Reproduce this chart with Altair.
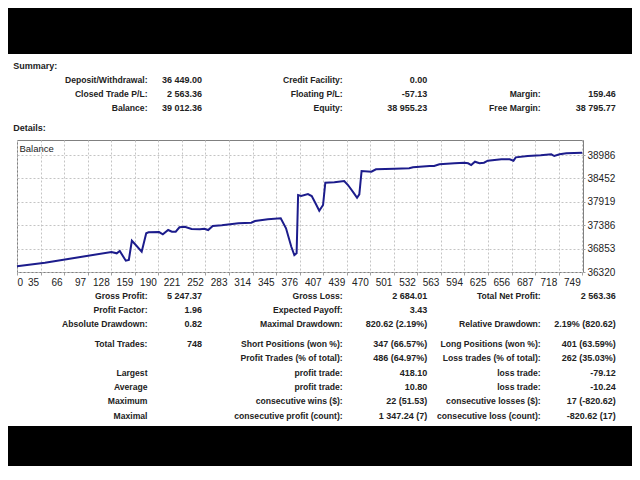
import json
import altair as alt
import pandas as pd

# ---------------- data ----------------
TRADE_IDX = [0, 37, 86, 125, 132, 136, 144, 148, 152, 156, 165, 171, 174, 188, 193, 200, 205, 210, 215, 222,
             231, 242, 248, 253, 259, 271, 293, 310, 315, 332, 349, 356, 363, 367, 370, 372, 376, 385, 390, 395,
             400, 405, 408, 420, 433, 438, 446, 450, 453, 456, 469, 475, 500, 519, 524, 546, 552, 559, 579, 592,
             597, 601, 606, 612, 618, 623, 641, 652, 657, 660, 676, 693, 707, 711, 718, 727, 748]
BALANCE = [36449, 36532, 36669, 36776, 36746, 36798, 36577, 36593, 37033, 36958, 36783, 37202, 37225, 37231, 37179,
           37277, 37238, 37238, 37339, 37352, 37300, 37293, 37307, 37277, 37368, 37384, 37430, 37443, 37482, 37521,
           37544, 37316, 36896, 36707, 36746, 38074, 38052, 38097, 38052, 37885, 37717, 37847, 38355, 38364, 38394,
           38302, 38113, 38013, 38090, 38621, 38605, 38660, 38674, 38683, 38706, 38735, 38735, 38774, 38797, 38810,
           38797, 38758, 38833, 38797, 38810, 38856, 38888, 38888, 38856, 38933, 38963, 38979, 39002, 38963, 39002,
           39025, 39038]

X_LABELS = ["0", "35", "66", "97", "128", "159", "190", "221", "252", "283", "314", "345", "376", "407",
            "439", "470", "501", "532", "563", "594", "625", "656", "687", "718", "749"]
Y_TICKS = [36320, 36853, 37386, 37919, 38452, 38986]
Y_DOMAIN = [36320, 39328]
N_TRADES = 748

SECTION_TITLES = ["Summary:", "Details:"]

HEADER_LABELS = [["Deposit/Withdrawal:", "Credit Facility:", ""],
                 ["Closed Trade P/L:", "Floating P/L:", "Margin:"],
                 ["Balance:", "Equity:", "Free Margin:"]]
HEADER_VALUES = [["36 449.00", "0.00", ""],
                 ["2 563.36", "-57.13", "159.46"],
                 ["39 012.36", "38 955.23", "38 795.77"]]

DETAIL_LABELS = [["Gross Profit:", "Gross Loss:", "Total Net Profit:"],
                 ["Profit Factor:", "Expected Payoff:", ""],
                 ["Absolute Drawdown:", "Maximal Drawdown:", "Relative Drawdown:"],
                 ["Total Trades:", "Short Positions (won %):", "Long Positions (won %):"],
                 ["", "Profit Trades (% of total):", "Loss trades (% of total):"],
                 ["Largest", "profit trade:", "loss trade:"],
                 ["Average", "profit trade:", "loss trade:"],
                 ["Maximum", "consecutive wins ($):", "consecutive losses ($):"],
                 ["Maximal", "consecutive profit (count):", "consecutive loss (count):"]]
DETAIL_VALUES = [["5 247.37", "2 684.01", "2 563.36"],
                 ["1.96", "3.43", ""],
                 ["0.82", "820.62 (2.19%)", "2.19% (820.62)"],
                 ["748", "347 (66.57%)", "401 (63.59%)"],
                 ["", "486 (64.97%)", "262 (35.03%)"],
                 ["", "418.10", "-79.12"],
                 ["", "10.80", "-10.24"],
                 ["", "22 (51.53)", "17 (-820.62)"],
                 ["", "1 347.24 (7)", "-820.62 (17)"]]

# ---------------- layout (pixels relative to the plot area) ----------------
LABEL_RIGHT = [130.5, 325.7, 523.7]
VALUE_RIGHT = [185.0, 410.3, 598.7]
HEADER_ROW_Y = [-60, -46, -32]
DETAIL_ROW_Y = [155.7, 170, 184.3, 204.3, 218.3, 232.7, 247, 261.3, 275.7]
TITLE_POS = [(-3.7, -74.3), (-3.7, -12.3)]
FONT = "Liberation Sans"
TEXT_COLOR = "#222222"

label_rows, value_rows = [], []
for labels, values, ys in ((HEADER_LABELS, HEADER_VALUES, HEADER_ROW_Y),
                           (DETAIL_LABELS, DETAIL_VALUES, DETAIL_ROW_Y)):
    for r, y in enumerate(ys):
        for c in range(3):
            if labels[r][c]:
                label_rows.append({"text": labels[r][c], "px": LABEL_RIGHT[c], "py": y})
            if values[r][c]:
                value_rows.append({"text": values[r][c], "px": VALUE_RIGHT[c], "py": y})
labels_df = pd.DataFrame(label_rows)
values_df = pd.DataFrame(value_rows)
titles_df = pd.DataFrame({"text": SECTION_TITLES,
                          "px": [p[0] for p in TITLE_POS],
                          "py": [p[1] for p in TITLE_POS]})
bal_df = pd.DataFrame({"trade": TRADE_IDX, "balance": BALANCE})

x_values = [k * N_TRADES / 24 for k in range(25)]
label_expr = f"{json.dumps(X_LABELS)}[round(datum.value * 24 / {N_TRADES})]"

one = pd.DataFrame({"a": [0]})
top_band = alt.Chart(one).mark_rect(color="black").encode(
    x=alt.value(-9), x2=alt.value(615), y=alt.value(-132), y2=alt.value(-86))
bottom_band = alt.Chart(one).mark_rect(color="black").encode(
    x=alt.value(-9), x2=alt.value(615), y=alt.value(286), y2=alt.value(326))

line = alt.Chart(bal_df).mark_line(color="#1c1c8c", strokeWidth=2).encode(
    x=alt.X("trade:Q",
            scale=alt.Scale(domain=[0, N_TRADES + 1], nice=False, zero=False),
            axis=alt.Axis(values=x_values, labelExpr=label_expr, title=None,
                          grid=True, gridDash=[2, 2], gridColor="#c4c4c4",
                          domain=False, ticks=True, tickSize=3, tickColor="#a0a0a0",
                          labelAlign={"condition": {"test": "datum.value == 0", "value": "left"},
                                      "value": "right"},
                          labelOffset={"condition": {"test": "datum.value == 0", "value": 0},
                                       "value": -2},
                          labelFlush=False, labelPadding=2, labelOverlap=False,
                          labelFont=FONT, labelFontSize=10, labelColor=TEXT_COLOR)),
    y=alt.Y("balance:Q",
            scale=alt.Scale(domain=Y_DOMAIN, nice=False, zero=False),
            axis=alt.Axis(orient="right", values=Y_TICKS, format="d", title=None,
                          grid=True, gridDash=[2, 2], gridColor="#c4c4c4",
                          domain=False, ticks=True, tickSize=2, tickColor="#a0a0a0",
                          labelPadding=2, labelOverlap=False, labelFlush=False,
                          labelFont=FONT, labelFontSize=10, labelColor=TEXT_COLOR)),
)

balance_label = alt.Chart(one).mark_text(
    align="left", baseline="middle", font=FONT, fontSize=9.5, color=TEXT_COLOR
).encode(x=alt.value(2.5), y=alt.value(9), text=alt.value("Balance"))


def text_layer(df, align, size):
    return alt.Chart(df).mark_text(
        align=align, baseline="middle", font=FONT, fontSize=size, fontWeight="bold", color=TEXT_COLOR
    ).encode(x=alt.X("px:Q", scale=None, axis=None),
             y=alt.Y("py:Q", scale=None, axis=None),
             text="text:N")


label_text = text_layer(labels_df, "right", 8.6)
value_text = text_layer(values_df, "right", 9)
title_text = text_layer(titles_df, "left", 9)

chart = alt.layer(top_band, bottom_band, line, balance_label, label_text, value_text, title_text).resolve_scale(
    x="independent", y="independent"
).properties(
    width=566, height=132, padding=0, background="white"
).configure_view(stroke="#808080", strokeWidth=1)

chart.save("out.html", embed_options={"renderer": "svg", "actions": False})
